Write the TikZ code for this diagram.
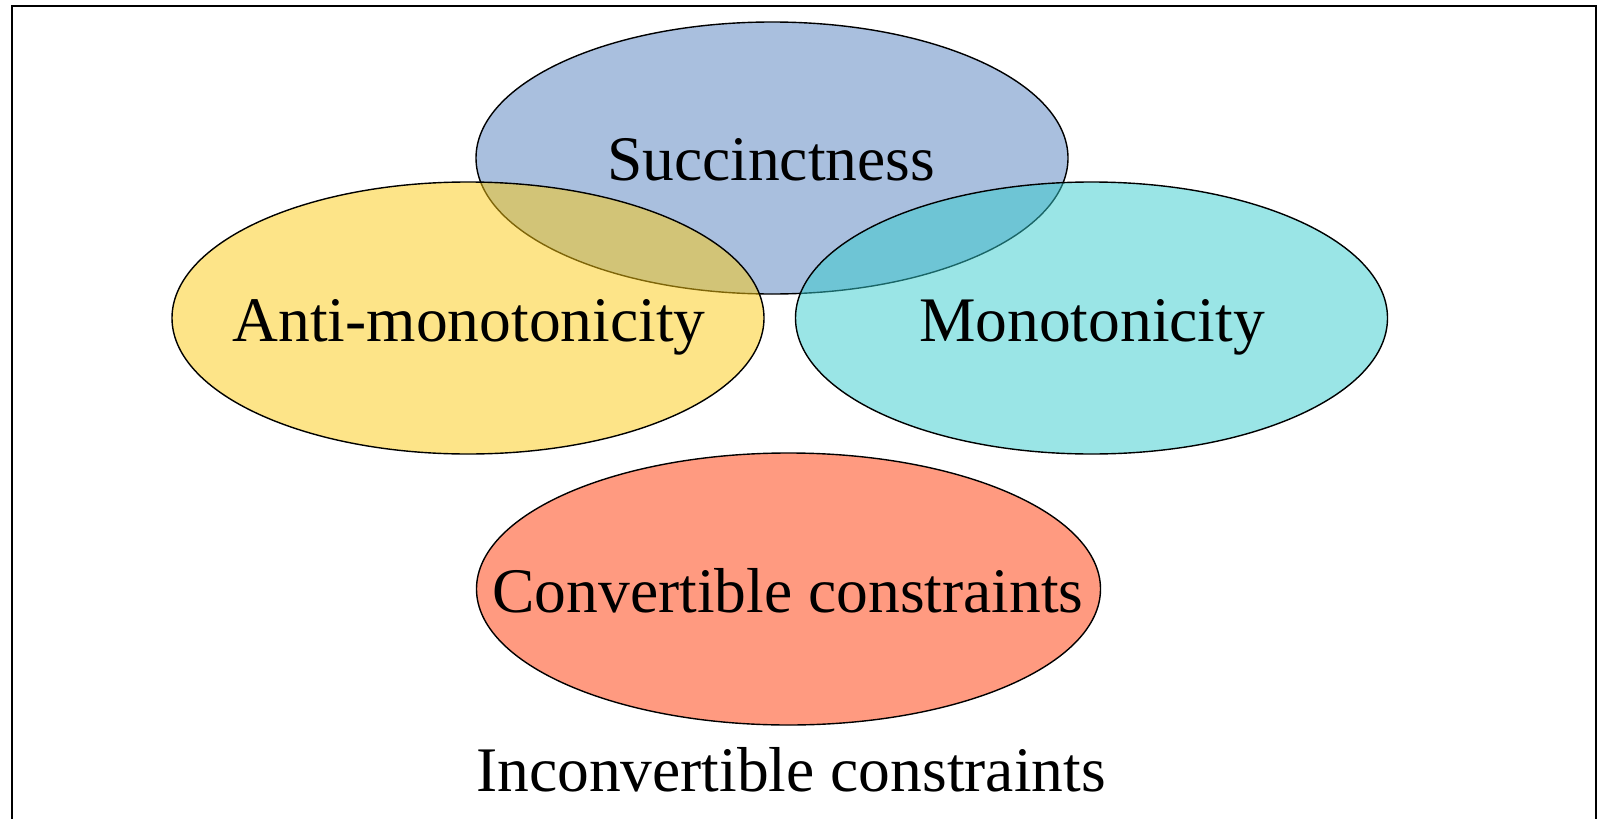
\documentclass[tikz,border=0pt]{standalone}
\usepackage{fontspec}
\setmainfont{Liberation Serif}
\definecolor{succblue}{RGB}{169,191,222}
\definecolor{antiyellow}{RGB}{252,202,18}
\definecolor{monocyan}{RGB}{53,203,205}
\definecolor{convred}{RGB}{255,154,128}
\tikzset{
  setring/.style={draw=black, line width=1.4pt},
  setlabel/.style={inner sep=0pt, font=\fontsize{63.5}{70}\selectfont},
}
\begin{document}
\begin{tikzpicture}[x=1pt, y=-1pt]
  \useasboundingbox (0,0) rectangle (1601,819);
  % outer frame, open at the bottom edge
  \draw[line width=2pt] (12,830) -- (12,6) -- (1596,6) -- (1596,830);
  % constraint classes
  \draw[setring, fill=succblue] (772,158) ellipse [x radius=296, y radius=136];
  \draw[setring, fill=antiyellow, fill opacity=0.5] (468,318) ellipse [x radius=296, y radius=136];
  \draw[setring, fill=monocyan, fill opacity=0.5] (1091.5,318) ellipse [x radius=296, y radius=136];
  \draw[setring, fill=convred] (788.5,589) ellipse [x radius=312, y radius=136];
  % labels
  \node[setlabel] (succ) at (771,160) {Succinctness};
  \node[setlabel] (anti) at (469,327) {Anti-monotonicity};
  \node[setlabel] (mono) at (1092,327) {Monotonicity};
  \node[setlabel] (conv) at (788,591) {Convertible constraints};
  \node[setlabel] (inconv) at (791,770) {Inconvertible constraints};
\end{tikzpicture}
\end{document}
